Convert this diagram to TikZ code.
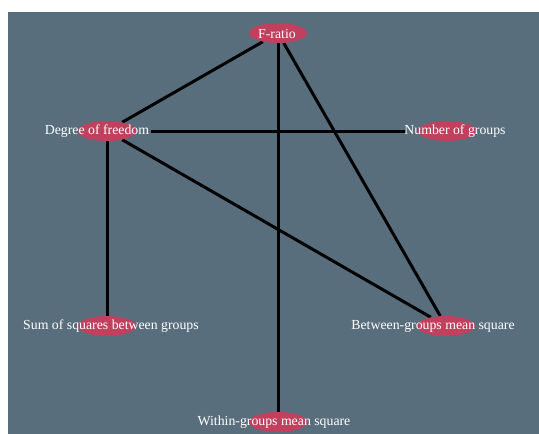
\documentclass[tikz,border=0pt]{standalone}
\usepackage{fontspec}
\setmainfont{Liberation Serif}
\usetikzlibrary{shapes.geometric}

\definecolor{slate}{RGB}{89,110,125}
\definecolor{nodered}{RGB}{192,64,94}

\pgfdeclarelayer{bg}
\pgfdeclarelayer{edges}
\pgfsetlayers{bg,edges,main}

\tikzset{
  vertex/.style={ellipse, fill=nodered, minimum width=58pt, minimum height=20pt, inner sep=0pt},
  vlabel/.style={text=white, font=\fontsize{13.8}{16}\selectfont, inner sep=0pt},
  link/.style={line width=3pt, black}
}

\begin{document}
\begin{tikzpicture}[x=1pt, y=1pt]

\useasboundingbox (0,0) rectangle (539,-434);
\begin{pgfonlayer}{bg}
\fill [white] (0,0) rectangle (539,-434);
\fill [slate] (8,-12) rectangle (539,-434);
\end{pgfonlayer}

\coordinate (FR) at (278,-33);
\coordinate (DF) at (107,-131);
\coordinate (NG) at (447,-131);
\coordinate (SS) at (107,-326);
\coordinate (BM) at (446,-326);
\coordinate (WM) at (278,-422);

\node [vertex] (fratio) at (FR) {};
\node [vertex] (dfree) at (DF) {};
\node [vertex] (ngroups) at (NG) {};
\node [vertex] (ssbetween) at (SS) {};
\node [vertex] (msbetween) at (BM) {};
\node [vertex] (mswithin) at (WM) {};

\node [vlabel] (fratio-t) at (277,-33.5) {F-ratio};
\node [vlabel] (dfree-t) at (97,-131.5) {Degree of freedom};
\node [vlabel] (ngroups-t) at (455,-131.5) {Number of groups};
\node [vlabel] (ssbetween-t) at (111,-326.5) {Sum of squares between groups};
\node [vlabel] (msbetween-t) at (433,-326.5) {Between-groups mean square};
\node [vlabel] (mswithin-t) at (274,-422.5) {Within-groups mean square};

\begin{pgfonlayer}{edges}
\draw [link] (fratio) -- (dfree);
\draw [link] (fratio) -- (mswithin);
\draw [link] (fratio) -- (msbetween);
\draw [link, shorten <=15pt, shorten >=13pt] (dfree) -- (ngroups);
\draw [link] (dfree) -- (ssbetween);
\draw [link] (dfree) -- (msbetween);
\end{pgfonlayer}

\end{tikzpicture}
\end{document}
